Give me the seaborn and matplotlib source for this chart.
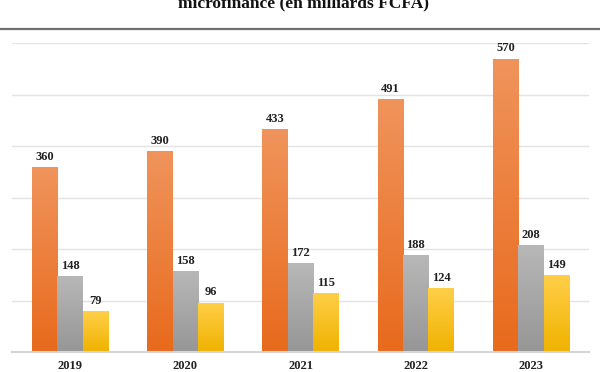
import matplotlib
matplotlib.use("Agg")
import matplotlib.pyplot as plt
import matplotlib.colors as mcolors
import numpy as np
import pandas as pd
import seaborn as sns

years = ["2019", "2020", "2021", "2022", "2023"]
series_names = ["Série 1", "Série 2", "Série 3"]
serie1 = [360, 390, 433, 491, 570]
serie2 = [148, 158, 172, 188, 208]
serie3 = [79, 96, 115, 124, 149]
title_text = "microfinance (en milliards FCFA)"

grad_colors = {
    "Série 1": ("#F0945C", "#E86A1C"),
    "Série 2": ("#B8B8B8", "#969696"),
    "Série 3": ("#FFCF48", "#F0B200"),
}

df = pd.DataFrame({
    "year": years * 3,
    "series": [series_names[0]] * 5 + [series_names[1]] * 5 + [series_names[2]] * 5,
    "value": serie1 + serie2 + serie3,
})

sns.set_theme(style="white")
plt.rcParams["font.family"] = ["Liberation Serif", "DejaVu Serif"]

fig = plt.figure(figsize=(6, 3.72), dpi=100)
ax = fig.add_axes([0.0207, 0.0538, 0.9603, 0.830])

palette = {k: v[1] for k, v in grad_colors.items()}
sns.barplot(data=df, x="year", y="value", hue="series", hue_order=series_names,
            palette=palette, width=0.66, gap=0, ax=ax, legend=False,
            saturation=1, errorbar=None)

ax.set_ylim(0, 600)
ax.set_xlim(-0.5, 4.5)

# gradient fills and labels
for cont, name in zip(ax.containers, series_names):
    top, bot = grad_colors[name]
    cmap = mcolors.LinearSegmentedColormap.from_list(name, [bot, top])
    grad = np.linspace(0, 1, 256).reshape(-1, 1)
    for patch in cont.patches:
        x0 = patch.get_x()
        w = patch.get_width()
        h = patch.get_height()
        patch.set_edgecolor("none")
        im = ax.imshow(grad, cmap=cmap, origin="lower", aspect="auto",
                       extent=(x0, x0 + w, 0, h), zorder=patch.get_zorder() + 0.1)
        im.set_clip_path(patch)
    ax.bar_label(cont, labels=[f"{int(v)}" for v in cont.datavalues], padding=3,
                 fontsize=9, fontweight="bold", color="#222222")

ax.set_xlim(-0.5, 4.5)
ax.set_ylim(0, 600)

ax.set_yticks([0, 100, 200, 300, 400, 500, 600])
ax.set_yticklabels([])
ax.yaxis.grid(True, color="#E3E3E3", linewidth=1)
ax.set_axisbelow(True)
ax.tick_params(axis="y", length=0)
ax.tick_params(axis="x", length=0, pad=6)
for lbl in ax.get_xticklabels():
    lbl.set_fontweight("bold")
    lbl.set_fontsize(9)
    lbl.set_color("#222222")
ax.set_xlabel("")
ax.set_ylabel("")
for s in ["top", "right", "left"]:
    ax.spines[s].set_visible(False)
ax.spines["bottom"].set_color("#D6D6D6")
ax.spines["bottom"].set_linewidth(1.5)

# top frame line and cut-off title (as in the reference)
fig.add_artist(plt.Line2D([0, 1], [1 - 29 / 372, 1 - 29 / 372], color="#707070",
                          linewidth=1.6, transform=fig.transFigure))
fig.text(0.505, 1 - 7 / 372, title_text, ha="center", va="baseline",
         fontsize=12.5, fontweight="bold", color="#111111")

fig.savefig("out.png", dpi=100)
